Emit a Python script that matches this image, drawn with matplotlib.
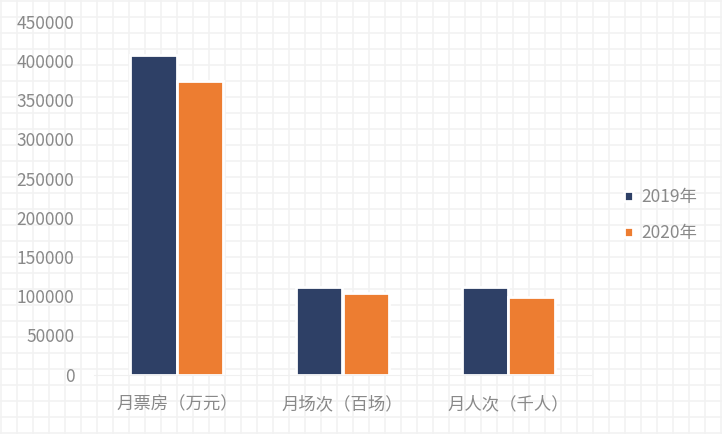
import matplotlib
matplotlib.use("Agg")
import matplotlib.pyplot as plt
import numpy as np

plt.rcParams['font.family'] = ['Noto Sans CJK SC', 'DejaVu Sans']

categories = ['月票房（万元）', '月场次（百场）', '月人次（千人）']
series_names = ['2019年', '2020年']
values_2019 = [408000, 111500, 111500]
values_2020 = [375000, 104000, 98500]
yticks = [0, 50000, 100000, 150000, 200000, 250000, 300000, 350000, 400000, 450000]

colors = ['#2e4066', '#ed7d31']
text_color = '#898989'

W, H = 722, 434
fig = plt.figure(figsize=(W / 100, H / 100), dpi=100)
fig.patch.set_facecolor('white')

# graph paper background
bg = fig.add_axes([0, 0, 1, 1], zorder=0)
bg.set_xlim(0, W)
bg.set_ylim(H, 0)
bg.axis('off')
for p in np.arange(0.7, W, 16):
    bg.axvline(p, color='#f2f2f2', lw=1.2)
for p in np.arange(0.7, H, 16):
    bg.axhline(p, color='#f2f2f2', lw=1.2)

ax = fig.add_axes([94 / W, 1 - 374.5 / H, 497 / W, 352.75 / H], zorder=1)
ax.patch.set_alpha(0)

x = np.arange(len(categories))
width = 0.28
ax.bar(x - width / 2, values_2019, width, color=colors[0], edgecolor='white', lw=2.0,
       label=series_names[0])
ax.bar(x + width / 2, values_2020, width, color=colors[1], edgecolor='white', lw=2.0,
       label=series_names[1])

ax.set_xlim(-0.5, len(categories) - 0.5)
ax.set_ylim(0, 450000)
ax.set_yticks(yticks)
ax.set_yticklabels([str(v) for v in yticks])
ax.set_xticks(x)
ax.set_xticklabels(categories)
ax.tick_params(axis='y', length=0, pad=14, labelsize=12.5, labelcolor=text_color)
ax.tick_params(axis='x', length=0, pad=15, labelsize=12.5, labelcolor=text_color)
for s in ['top', 'right', 'left']:
    ax.spines[s].set_visible(False)
ax.spines['bottom'].set_color('#f0f0f0')

leg = ax.legend(loc='center left', bbox_to_anchor=(608 / W, 1 - 215 / H),
                bbox_transform=fig.transFigure, frameon=False, fontsize=12.5,
                handlelength=0.55, handleheight=0.55, handletextpad=0.45,
                labelspacing=1.05)
for t in leg.get_texts():
    t.set_color(text_color)

fig.savefig('out.png', dpi=100)
